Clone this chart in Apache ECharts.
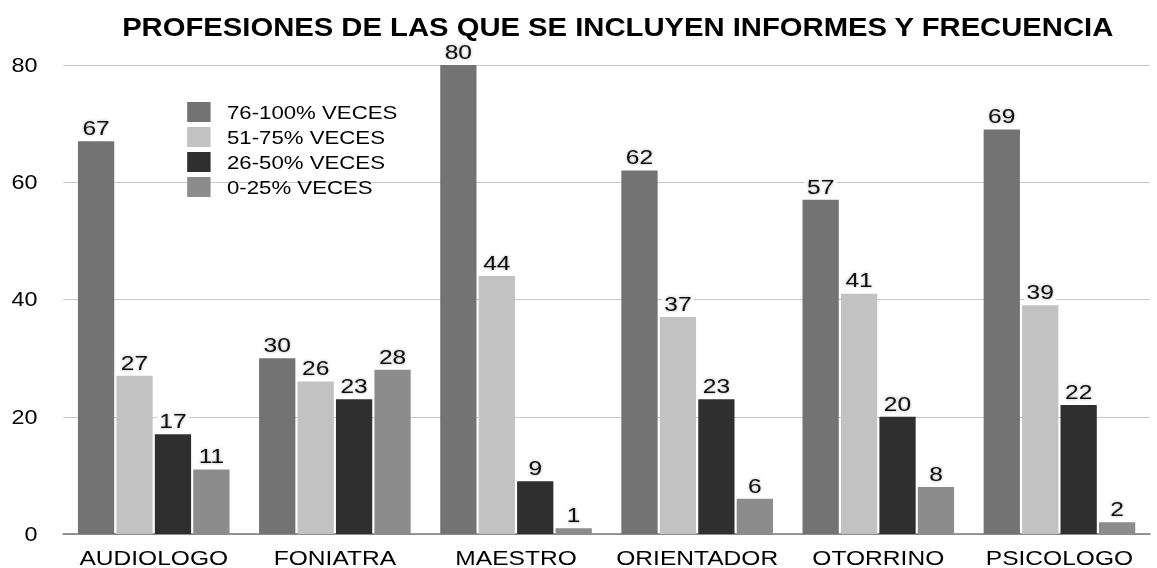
<!DOCTYPE html>
<html>
<head>
<meta charset="utf-8">
<script src="https://cdn.jsdelivr.net/npm/echarts@6/dist/echarts.min.js"></script>
<style>
  html, body { margin: 0; padding: 0; background: #fff; overflow: hidden; }
  /* el original esta estirado en horizontal, se dibuja mas estrecho y se escala */
  #chart { width: 989px; height: 568px; transform: scaleX(1.1699); transform-origin: 0 0; }
</style>
</head>
<body>
<div id="chart"></div>
<script>
// datos
var categorias = ['AUDIOLOGO', 'FONIATRA', 'MAESTRO', 'ORIENTADOR', 'OTORRINO', 'PSICOLOGO']
var series76 = [67, 30, 80, 62, 57, 69]
var series51 = [27, 26, 44, 37, 41, 39]
var series26 = [17, 23, 9, 23, 20, 22]
var series0 = [11, 28, 1, 6, 8, 2]
var nombres = ['76-100% VECES', '51-75% VECES', '26-50% VECES', '0-25% VECES']
var colores = ['#727372', '#c1c2c1', '#2e2f2e', '#8b8c8b']

var fuente = 'Liberation Sans, Arial, sans-serif'
var chart = echarts.init(document.getElementById('chart'), null, { renderer: 'svg' })

function serie(nombre, datos, color) {
    return {
        name: nombre,
        type: 'bar',
        data: datos,
        barWidth: 31,
        barGap: '6%',
        itemStyle: { color: color },
        label: {
            show: true,
            position: 'top',
            distance: 3,
            color: '#111',
            fontSize: 21,
            fontFamily: fuente,
            backgroundColor: '#fff',
            padding: [1, 2, 0, 2],
            textShadowColor: 'rgba(0,0,0,0.35)',
            textShadowBlur: 3
        }
    }
}

var option = {
    animation: false,
    title: {
        text: 'PROFESIONES DE LAS QUE SE INCLUYEN INFORMES Y FRECUENCIA',
        left: 523,
        textAlign: 'center',
        top: 10,
        textStyle: {
            fontFamily: fuente,
            fontWeight: 'bold',
            fontSize: 25,
            color: '#000'
        }
    },
    legend: {
        orient: 'vertical',
        left: 155,
        top: 97,
        itemWidth: 20,
        itemHeight: 20,
        itemGap: 5,
        icon: 'rect',
        data: nombres,
        textStyle: {
            fontFamily: fuente,
            fontSize: 19,
            color: '#000',
            padding: [0, 0, 0, 9]
        }
    },
    grid: {
        left: 54,
        right: 6,
        top: 65,
        bottom: 34
    },
    xAxis: {
        type: 'category',
        data: categorias,
        axisTick: { show: false },
        axisLine: { lineStyle: { color: '#7a7a7a', width: 1.5 } },
        axisLabel: {
            interval: 0,
            hideOverlap: false,
            color: '#000',
            fontSize: 21,
            margin: 13,
            fontFamily: fuente
        }
    },
    yAxis: {
        type: 'value',
        min: 0,
        max: 80,
        interval: 20,
        axisLine: { show: false },
        axisTick: { show: false },
        splitLine: { lineStyle: { color: '#c8c8c8', width: 1 } },
        axisLabel: {
            color: '#000',
            fontSize: 20,
            margin: 22,
            fontFamily: fuente
        }
    },
    series: [
        serie(nombres[0], series76, colores[0]),
        serie(nombres[1], series51, colores[1]),
        serie(nombres[2], series26, colores[2]),
        serie(nombres[3], series0, colores[3])
    ]
}
chart.setOption(option)
</script>
</body>
</html>
